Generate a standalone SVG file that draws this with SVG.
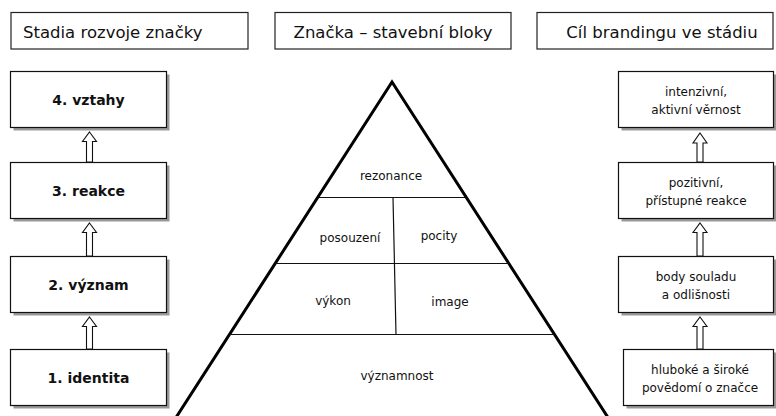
<svg xmlns="http://www.w3.org/2000/svg" width="776" height="416" viewBox="0 0 776 416">
  <style>
    text { font-family: "DejaVu Sans", "Liberation Sans", sans-serif; fill: #111; }
    .hdr { fill: #fff; stroke: #222; stroke-width: 1.2; }
    .hdr-t { font-size: 16.5px; }
    .box { fill: #fff; stroke: #111; stroke-width: 1.2; }
    .shadow { fill: #999; }
    .stage { font-size: 14px; font-weight: bold; text-anchor: middle; }
    .goal { font-size: 12px; text-anchor: middle; }
    .blk { font-size: 12px; text-anchor: middle; }
    .arrow { fill: #fff; stroke: #111; stroke-width: 1.1; stroke-linejoin: miter; }
    .pyr { fill: none; stroke: #000; stroke-width: 3; stroke-linejoin: miter; stroke-miterlimit: 10; }
    .div { fill: none; stroke: #111; stroke-width: 1.2; }
  </style>

  <!-- column headers -->
  <g id="hdr-stages">
    <rect class="hdr" x="11" y="12.5" width="237" height="36.5"/>
    <text class="hdr-t" x="23" y="37.5">Stadia rozvoje značky</text>
  </g>
  <g id="hdr-blocks">
    <rect class="hdr" x="275" y="12.5" width="236" height="36.5"/>
    <text class="hdr-t" x="393" y="37.5" text-anchor="middle">Značka – stavební bloky</text>
  </g>
  <g id="hdr-goals">
    <rect class="hdr" x="537" y="12.5" width="236" height="36.5"/>
    <text class="hdr-t" x="662" y="37.5" text-anchor="middle">Cíl brandingu ve stádiu</text>
  </g>

  <!-- stages of brand development -->
  <g id="stage4">
    <rect class="shadow" x="13.5" y="74.5" width="156" height="56"/>
    <rect class="box" x="10.5" y="71.5" width="156" height="56"/>
    <text class="stage" x="88.5" y="105">4. vztahy</text>
  </g>
  <g id="stage3">
    <rect class="shadow" x="13.5" y="165.5" width="156" height="56"/>
    <rect class="box" x="10.5" y="162.5" width="156" height="56"/>
    <text class="stage" x="88.5" y="196">3. reakce</text>
  </g>
  <g id="stage2">
    <rect class="shadow" x="13.5" y="259.5" width="156" height="56"/>
    <rect class="box" x="10.5" y="256.5" width="156" height="56"/>
    <text class="stage" x="88.5" y="290">2. význam</text>
  </g>
  <g id="stage1">
    <rect class="shadow" x="13.5" y="352.5" width="156" height="56"/>
    <rect class="box" x="10.5" y="349.5" width="156" height="56"/>
    <text class="stage" x="88.5" y="383">1. identita</text>
  </g>

  <!-- branding goals per stage -->
  <g id="goal4">
    <rect class="shadow" x="621.5" y="74.5" width="155" height="56"/>
    <rect class="box" x="618.5" y="71.5" width="155" height="56"/>
    <text class="goal" x="696" y="95.5">intenzivní,</text>
    <text class="goal" x="696" y="113.5">aktivní věrnost</text>
  </g>
  <g id="goal3">
    <rect class="shadow" x="621.5" y="165.5" width="155" height="56"/>
    <rect class="box" x="618.5" y="162.5" width="155" height="56"/>
    <text class="goal" x="696" y="186.5">pozitivní,</text>
    <text class="goal" x="696" y="204.5">přístupné reakce</text>
  </g>
  <g id="goal2">
    <rect class="shadow" x="621.5" y="259.5" width="155" height="56"/>
    <rect class="box" x="618.5" y="256.5" width="155" height="56"/>
    <text class="goal" x="696" y="280.5">body souladu</text>
    <text class="goal" x="696" y="298.5">a odlišnosti</text>
  </g>
  <g id="goal1">
    <rect class="shadow" x="626.5" y="352.5" width="150" height="56"/>
    <rect class="box" x="623.5" y="349.5" width="150" height="56"/>
    <text class="goal" x="700" y="373.5">hluboké a široké</text>
    <text class="goal" x="700" y="391.5">povědomí o značce</text>
  </g>

  <!-- brand building blocks pyramid -->
  <g id="pyramid">
    <polyline class="pyr" points="174.4,420 392,82 609.6,420"/>
    <line class="div" x1="318" y1="197.5" x2="466" y2="197.5"/>
    <line class="div" x1="275" y1="263.5" x2="509" y2="263.5"/>
    <line class="div" x1="230" y1="334.5" x2="554" y2="334.5"/>
    <line class="div" x1="393" y1="197.5" x2="396" y2="334.5"/>
    <text class="blk" x="391" y="180">rezonance</text>
    <text class="blk" x="350" y="242">posouzení</text>
    <text class="blk" x="439" y="240">pocity</text>
    <text class="blk" x="333" y="305">výkon</text>
    <text class="blk" x="450" y="306">image</text>
    <text class="blk" x="397" y="380">významnost</text>
  </g>

  <!-- hollow upward arrows between stages -->
  <g id="connectors">
    <path class="arrow" d="M89.5,132 L96.5,141.5 L92.5,141.5 L92.5,162 L86.5,162 L86.5,141.5 L82.5,141.5 Z"/>
    <path class="arrow" d="M89.5,223 L96.5,232.5 L92.5,232.5 L92.5,256 L86.5,256 L86.5,232.5 L82.5,232.5 Z"/>
    <path class="arrow" d="M89.5,317 L96.5,326.5 L92.5,326.5 L92.5,349 L86.5,349 L86.5,326.5 L82.5,326.5 Z"/>
    <path class="arrow" d="M700,133 L707,143 L703,143 L703,162 L697,162 L697,143 L693,143 Z"/>
    <path class="arrow" d="M700,223 L707,232.5 L703,232.5 L703,256 L697,256 L697,232.5 L693,232.5 Z"/>
    <path class="arrow" d="M700,317 L707,326.5 L703,326.5 L703,349 L697,349 L697,326.5 L693,326.5 Z"/>
  </g>
</svg>
